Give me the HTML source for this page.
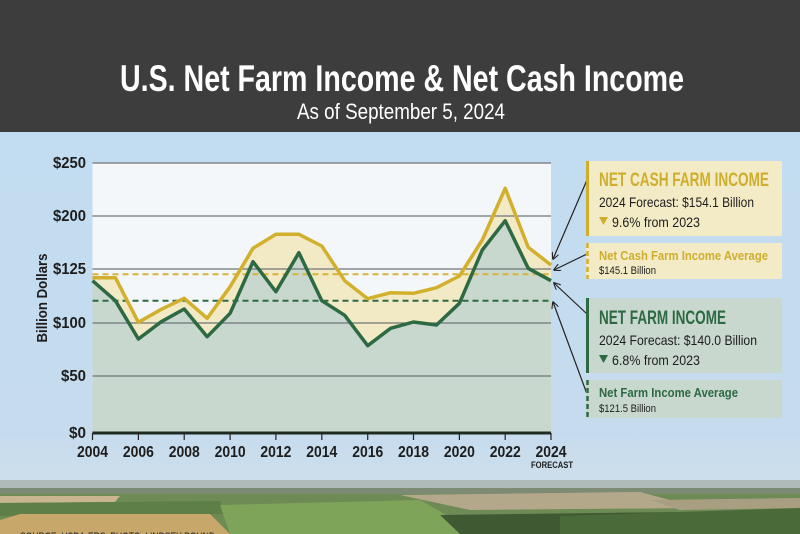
<!DOCTYPE html>
<html><head><meta charset="utf-8"><style>
html,body{margin:0;padding:0;width:800px;height:534px;overflow:hidden;background:#c4dcef}
svg{display:block}
text{font-family:"Liberation Sans Narrow","Liberation Sans",sans-serif}
</style></head><body>
<svg width="800" height="534" viewBox="0 0 800 534" xmlns="http://www.w3.org/2000/svg">
<defs>
<linearGradient id="sky" x1="0" y1="0" x2="0" y2="1">
<stop offset="0" stop-color="#c2dcf1"/><stop offset="0.75" stop-color="#c6dcee"/><stop offset="1" stop-color="#d5e0e8"/>
</linearGradient>
<marker id="ah" viewBox="0 0 10 10" refX="9" refY="5" markerWidth="6" markerHeight="6" orient="auto"><path d="M0,0 L10,5 L0,10" fill="none" stroke="#222" stroke-width="1.5"/></marker>
</defs>
<rect x="0" y="132" width="800" height="402" fill="url(#sky)"/>
<!-- landscape -->
<rect x="0" y="480" width="800" height="54" fill="#8f9c86"/>
<rect x="0" y="480" width="800" height="8" fill="#aebbb8"/>
<rect x="0" y="488" width="800" height="6" fill="#7d8a74"/>
<rect x="0" y="494" width="800" height="40" fill="#6e8a55"/>
<polygon points="0,496 120,496 115,502 0,503" fill="#c9b58f"/>
<polygon points="0,503 220,501 225,514 0,516" fill="#5e7f48"/>
<polygon points="20,514 210,514 230,534 0,534 0,520" fill="#c8a86a"/>
<polygon points="220,505 420,500 480,534 230,534" fill="#7ea45a"/>
<polygon points="400,495 640,492 700,508 470,510" fill="#b4a88a"/>
<polygon points="440,515 680,512 720,534 460,534" fill="#3f5a32"/>
<polygon points="560,516 800,508 800,534 560,534" fill="#4a6a3a"/>
<polygon points="650,500 800,498 800,508 680,510" fill="#a89f82"/>
<text x="20" y="540" font-size="11" fill="#222" textLength="195" lengthAdjust="spacingAndGlyphs">SOURCE: USDA-ERS. PHOTO: LINDSEY POUND</text>
<!-- header -->
<rect x="0" y="0" width="800" height="132" fill="#3d3d3d"/>
<text x="120" y="91" font-size="37" font-weight="bold" fill="#fff" textLength="564" lengthAdjust="spacingAndGlyphs">U.S. Net Farm Income &amp; Net Cash Income</text>
<text x="297" y="119" font-size="22" fill="#fff" textLength="208" lengthAdjust="spacingAndGlyphs">As of September 5, 2024</text>
<!-- plot -->
<rect x="92.5" y="163" width="458.5" height="270" fill="#f3f7fa"/>
<polygon fill="#f2e9c5" points="92.5,277.7 115.4,277.7 138.4,322.3 161.3,309.3 184.2,298.3 207.2,318.3 230.1,286.7 253,248.3 275.9,234.3 298.9,234.3 321.8,246 344.7,280.7 367.7,298.7 390.6,292.7 413.5,293.3 436.5,287.7 459.4,276 482.3,240 505.2,188.3 528.2,247.3 551,265 551,280.7 528.2,268.3 505.2,220.7 482.3,250 459.4,303.3 436.5,325 413.5,322 390.6,328.3 367.7,345.7 344.7,315.3 321.8,300.7 298.9,252.7 275.9,291.7 253,261.7 230.1,313.3 207.2,336.7 184.2,309 161.3,321.7 138.4,339 115.4,300.7 92.5,280.7"/>
<polygon fill="#c9d8cf" points="92.5,280.7 115.4,300.7 138.4,339 161.3,321.7 184.2,309 207.2,336.7 230.1,313.3 253,261.7 275.9,291.7 298.9,252.7 321.8,300.7 344.7,315.3 367.7,345.7 390.6,328.3 413.5,322 436.5,325 459.4,303.3 482.3,250 505.2,220.7 528.2,268.3 551,280.7 551,433 92.5,433"/>
<g stroke="#6f7479" stroke-width="1.3">
<line x1="92.5" y1="163" x2="551" y2="163"/><line x1="92.5" y1="216" x2="551" y2="216"/><line x1="92.5" y1="269" x2="551" y2="269"/><line x1="92.5" y1="323" x2="551" y2="323"/><line x1="92.5" y1="376" x2="551" y2="376"/>
</g>
<line x1="92.5" y1="274.3" x2="551" y2="274.3" stroke="#d6b33a" stroke-width="2" stroke-dasharray="6,4"/>
<line x1="92.5" y1="300.7" x2="551" y2="300.7" stroke="#2f6a45" stroke-width="2" stroke-dasharray="6,4"/>
<polyline fill="none" stroke="#d2b02e" stroke-width="3.5" stroke-linejoin="round" points="92.5,277.7 115.4,277.7 138.4,322.3 161.3,309.3 184.2,298.3 207.2,318.3 230.1,286.7 253,248.3 275.9,234.3 298.9,234.3 321.8,246 344.7,280.7 367.7,298.7 390.6,292.7 413.5,293.3 436.5,287.7 459.4,276 482.3,240 505.2,188.3 528.2,247.3 551,265"/>
<polyline fill="none" stroke="#2d6a43" stroke-width="3.5" stroke-linejoin="round" points="92.5,280.7 115.4,300.7 138.4,339 161.3,321.7 184.2,309 207.2,336.7 230.1,313.3 253,261.7 275.9,291.7 298.9,252.7 321.8,300.7 344.7,315.3 367.7,345.7 390.6,328.3 413.5,322 436.5,325 459.4,303.3 482.3,250 505.2,220.7 528.2,268.3 551,280.7"/>
<line x1="92.5" y1="433" x2="551" y2="433" stroke="#1f2a22" stroke-width="3"/>
<g stroke="#222" stroke-width="1.2">
<line x1="92.5" y1="433" x2="92.5" y2="440"/><line x1="138.4" y1="433" x2="138.4" y2="440"/><line x1="184.2" y1="433" x2="184.2" y2="440"/><line x1="230.1" y1="433" x2="230.1" y2="440"/><line x1="275.9" y1="433" x2="275.9" y2="440"/><line x1="321.8" y1="433" x2="321.8" y2="440"/><line x1="367.7" y1="433" x2="367.7" y2="440"/><line x1="413.5" y1="433" x2="413.5" y2="440"/><line x1="459.4" y1="433" x2="459.4" y2="440"/><line x1="505.2" y1="433" x2="505.2" y2="440"/><line x1="551" y1="433" x2="551" y2="440"/>
</g>
<g font-size="16" font-weight="bold" fill="#1d1d1d" text-anchor="end" lengthAdjust="spacingAndGlyphs">
<text x="86" y="168" textLength="33" lengthAdjust="spacingAndGlyphs">$250</text><text x="86" y="221" textLength="33" lengthAdjust="spacingAndGlyphs">$200</text><text x="86" y="274" textLength="33" lengthAdjust="spacingAndGlyphs">$125</text><text x="86" y="328" textLength="33" lengthAdjust="spacingAndGlyphs">$100</text><text x="86" y="381" textLength="25" lengthAdjust="spacingAndGlyphs">$50</text><text x="86" y="438" textLength="17" lengthAdjust="spacingAndGlyphs">$0</text>
</g>
<g font-size="16" font-weight="bold" fill="#1d1d1d" text-anchor="middle">
<text x="92.5" y="457" textLength="31" lengthAdjust="spacingAndGlyphs">2004</text><text x="138.4" y="457" textLength="31" lengthAdjust="spacingAndGlyphs">2006</text><text x="184.2" y="457" textLength="31" lengthAdjust="spacingAndGlyphs">2008</text><text x="230.1" y="457" textLength="31" lengthAdjust="spacingAndGlyphs">2010</text><text x="275.9" y="457" textLength="31" lengthAdjust="spacingAndGlyphs">2012</text><text x="321.8" y="457" textLength="31" lengthAdjust="spacingAndGlyphs">2014</text><text x="367.7" y="457" textLength="31" lengthAdjust="spacingAndGlyphs">2016</text><text x="413.5" y="457" textLength="31" lengthAdjust="spacingAndGlyphs">2018</text><text x="459.4" y="457" textLength="31" lengthAdjust="spacingAndGlyphs">2020</text><text x="505.2" y="457" textLength="31" lengthAdjust="spacingAndGlyphs">2022</text><text x="551" y="457" textLength="31" lengthAdjust="spacingAndGlyphs">2024</text>
</g>
<text x="552" y="468" font-size="9" font-weight="bold" fill="#1d1d1d" text-anchor="middle" textLength="42" lengthAdjust="spacingAndGlyphs">FORECAST</text>
<text transform="translate(47,298) rotate(-90)" font-size="15" font-weight="bold" fill="#1d1d1d" text-anchor="middle" textLength="89" lengthAdjust="spacingAndGlyphs">Billion Dollars</text>
<!-- arrows -->
<g stroke="#222" stroke-width="1.2" fill="none">
<line x1="587" y1="180" x2="553" y2="259" marker-end="url(#ah)"/>
<line x1="587" y1="254" x2="554" y2="270" marker-end="url(#ah)"/>
<line x1="587" y1="314" x2="554" y2="283" marker-end="url(#ah)"/>
<line x1="587" y1="394" x2="553" y2="302" marker-end="url(#ah)"/>
</g>
<!-- boxes -->
<rect x="586" y="161" width="196" height="75" fill="#f3ebc6"/>
<rect x="586" y="161" width="3" height="75" fill="#cfae2e"/>
<text x="599" y="186" font-size="19" font-weight="bold" fill="#cfae2e" textLength="170" lengthAdjust="spacingAndGlyphs">NET CASH FARM INCOME</text>
<text x="599" y="207" font-size="14" fill="#1d1d1d" textLength="155" lengthAdjust="spacingAndGlyphs">2024 Forecast: $154.1 Billion</text>
<polygon points="599,217 608,217 603.5,225" fill="#cfae2e"/>
<text x="612" y="227" font-size="14" fill="#1d1d1d" textLength="88" lengthAdjust="spacingAndGlyphs">9.6% from 2023</text>
<rect x="586" y="243" width="196" height="36" fill="#f3ebc6"/>
<line x1="587.5" y1="243" x2="587.5" y2="279" stroke="#cfae2e" stroke-width="2.5" stroke-dasharray="5,3"/>
<text x="599" y="260" font-size="13" font-weight="bold" fill="#cfae2e" textLength="169" lengthAdjust="spacingAndGlyphs">Net Cash Farm Income Average</text>
<text x="599" y="274" font-size="11" fill="#1d1d1d" textLength="57" lengthAdjust="spacingAndGlyphs">$145.1 Billion</text>
<rect x="586" y="298" width="196" height="75" fill="#c9d8cf"/>
<rect x="586" y="298" width="3" height="75" fill="#2d6a43"/>
<text x="599" y="324" font-size="19" font-weight="bold" fill="#2d6a43" textLength="127" lengthAdjust="spacingAndGlyphs">NET FARM INCOME</text>
<text x="599" y="345" font-size="14" fill="#1d1d1d" textLength="158" lengthAdjust="spacingAndGlyphs">2024 Forecast: $140.0 Billion</text>
<polygon points="599,355 608,355 603.5,363" fill="#2d6a43"/>
<text x="612" y="365" font-size="14" fill="#1d1d1d" textLength="88" lengthAdjust="spacingAndGlyphs">6.8% from 2023</text>
<rect x="586" y="380" width="196" height="38" fill="#c9d8cf"/>
<line x1="587.5" y1="380" x2="587.5" y2="418" stroke="#2d6a43" stroke-width="2.5" stroke-dasharray="5,3"/>
<text x="599" y="397" font-size="13" font-weight="bold" fill="#2d6a43" textLength="139" lengthAdjust="spacingAndGlyphs">Net Farm Income Average</text>
<text x="599" y="412" font-size="11" fill="#1d1d1d" textLength="57" lengthAdjust="spacingAndGlyphs">$121.5 Billion</text>
</svg>
</body></html>
